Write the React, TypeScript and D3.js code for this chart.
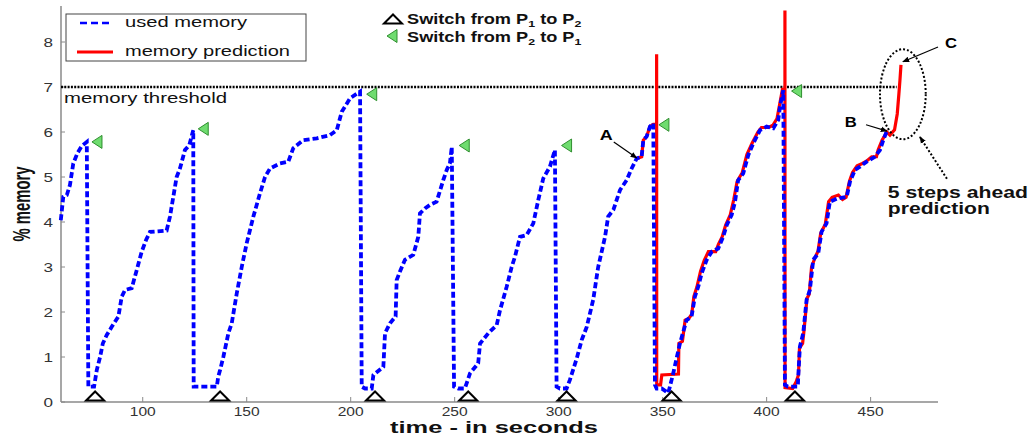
import React from "react";
import * as d3 from "d3";

// ---- data (time in seconds, % memory) ----
const usedMemory: [number, number][] = [
  [60.6, 4.04], [61.8, 4.56], [63.5, 4.6], [65.0, 4.82], [66.6, 5.3], [68.6, 5.53], [70.7, 5.69], [73.1, 5.78],
  [73.85, 0.34], [76.6, 0.34], [77.9, 0.71], [79.5, 1.0], [80.8, 1.3], [82.7, 1.49], [85.1, 1.67], [88.3, 1.9],
  [89.9, 2.34], [91.5, 2.49], [94.7, 2.53], [97.1, 2.93], [99.5, 3.34], [101.6, 3.6], [103.5, 3.78], [111.5, 3.81],
  [113.1, 4.12], [114.7, 4.56], [116.3, 5.0], [117.9, 5.19], [120.3, 5.6], [122.4, 5.71], [124.3, 6.04],
  [124.5, 0.34], [135.6, 0.34], [136.3, 0.56], [137.2, 0.71], [138.75, 1.0], [141.2, 1.53], [142.8, 1.75],
  [145.2, 2.41], [147.6, 3.0], [150.0, 3.53], [153.2, 4.12], [156.4, 4.64], [158.8, 5.0], [161.2, 5.19],
  [166.0, 5.3], [170.0, 5.34], [172.4, 5.64], [177.2, 5.82], [183.7, 5.86], [190.0, 5.93], [193.3, 6.04],
  [195.7, 6.45], [199.7, 6.75], [204.5, 6.9],
  [205.3, 0.34], [206.9, 0.3], [210.1, 0.3], [210.9, 0.6], [215.7, 0.78], [216.5, 1.53], [218.9, 1.75],
  [221.6, 1.9], [222.1, 2.71], [223.7, 2.9], [226.1, 3.16], [230.1, 3.27], [232.5, 3.67], [233.3, 4.19],
  [235.7, 4.3], [238.1, 4.38], [241.3, 4.45], [244.5, 4.93], [246.2, 5.16], [247.7, 5.3], [248.6, 5.67],
  [249.7, 0.34], [251.7, 0.3], [254.9, 0.3], [257.4, 0.64], [261.3, 0.86], [262.2, 1.3], [266.2, 1.53],
  [270.2, 1.71], [271.8, 2.04], [275.0, 2.56], [277.4, 3.0], [279.0, 3.23], [281.4, 3.67], [284.6, 3.71],
  [287.8, 3.97], [290.2, 4.49], [292.6, 4.97], [295.8, 5.23], [298.2, 5.6],
  [299.0, 0.34], [300.6, 0.3], [303.8, 0.3], [305.4, 0.49], [308.7, 0.97], [311.1, 1.38], [313.5, 1.67],
  [316.6, 2.27], [319.0, 3.0], [322.3, 3.67], [323.8, 4.12], [326.3, 4.27], [327.9, 4.49], [329.5, 4.71],
  [332.7, 4.93], [335.1, 5.19], [337.5, 5.41], [339.9, 5.45], [340.7, 5.82], [342.3, 5.9], [343.9, 6.12],
  [345.5, 6.19],
  [346.3, 0.38], [347.1, 0.3], [349.5, 0.3], [352.7, 0.2], [354.9, 0.6], [358.3, 1.3], [361.5, 1.82],
  [363.9, 1.9], [365.5, 2.34], [367.1, 2.56], [368.75, 2.86], [371.2, 3.16], [373.6, 3.34], [376.7, 3.41],
  [379.1, 3.67], [380.8, 3.93], [383.2, 4.16], [384.8, 4.45], [386.3, 4.93], [388.75, 5.08], [391.2, 5.49],
  [393.6, 5.75], [396.8, 6.04], [400.0, 6.12], [403.2, 6.08], [405.6, 6.27], [406.4, 6.56], [408.0, 6.93],
  [408.8, 0.38], [410.2, 0.34], [415.0, 0.34], [415.2, 0.56], [416.0, 1.23], [417.6, 1.53], [419.2, 2.27],
  [420.8, 2.49], [422.4, 3.16], [424.8, 3.3], [426.4, 3.78], [428.8, 3.97], [430.4, 4.45], [433.7, 4.52],
  [438.5, 4.56], [440.1, 4.9], [442.5, 5.16], [444.9, 5.23], [448.1, 5.34], [452.0, 5.45], [454.5, 5.6],
  [456.1, 5.82], [457.7, 6.01],
];

const memoryPrediction: [number, number][] = [
  [337.5, 5.41], [339.9, 5.45], [340.7, 5.82], [342.3, 5.9], [343.9, 6.12], [345.5, 6.17], [347.1, 6.17],
  [347.1, 7.73], [347.15, 0.38], [349.0, 0.38], [349.6, 0.6], [357.6, 0.62], [357.8, 1.3], [359.5, 1.35],
  [360.8, 1.82], [362.5, 1.85], [364.0, 1.95], [365.0, 2.34], [366.5, 2.56], [368.2, 2.9], [370.0, 3.15],
  [372.0, 3.34], [375.5, 3.34], [376.8, 3.5], [378.6, 3.67], [380.3, 3.93], [382.5, 4.16], [384.2, 4.5],
  [385.8, 4.9], [388.3, 5.1], [390.5, 5.5], [393.0, 5.75], [395.8, 6.0], [397.5, 6.1], [401.0, 6.1],
  [403.0, 6.15], [405.0, 6.3], [406.2, 6.6], [407.6, 6.95], [408.8, 6.95],
  [408.8, 8.7], [408.85, 0.32], [412.5, 0.3], [414.2, 0.45], [415.3, 0.6], [415.8, 1.2], [417.3, 1.3],
  [418.0, 1.6], [419.4, 2.3], [420.5, 2.4], [421.6, 3.0], [423.2, 3.2], [424.7, 3.35], [426.0, 3.75],
  [428.2, 3.95], [429.8, 4.45], [431.5, 4.55], [434.5, 4.6], [436.5, 4.5], [438.2, 4.55], [439.8, 4.9],
  [441.3, 5.1], [443.5, 5.25], [446.0, 5.3], [448.0, 5.35], [450.5, 5.45], [452.8, 5.45], [453.6, 5.6],
  [455.5, 5.82], [457.8, 6.0], [459.3, 5.93], [461.5, 6.05], [462.8, 6.4], [463.6, 6.85], [464.1, 7.15],
  [464.6, 7.49],
];

const switchP1toP2: number[] = [77.1, 137.2, 211.7, 256.5, 303.8, 354.3, 413.6];
const switchP2toP1: [number, number][] = [
  [78.0, 5.78], [129.1, 6.07], [210.1, 6.84], [254.6, 5.7], [303.8, 5.7], [350.6, 6.16], [414.4, 6.91],
];

const xTicks: number[] = [100, 150, 200, 250, 300, 350, 400, 450];
const yTicks: number[] = [0, 1, 2, 3, 4, 5, 6, 7, 8];
const memoryThreshold = 7;
const thresholdEnd = 462.5;

const FONT = "'Liberation Sans', Arial, Helvetica, sans-serif";

export default function App() {
  const x = d3.scaleLinear().domain([60.7, 482.4]).range([61, 938]);
  const y = d3.scaleLinear().domain([0, 8.8]).range([402, 6]);
  const line = d3
    .line<[number, number]>()
    .x((d) => x(d[0]))
    .y((d) => y(d[1]));

  const x0 = x(60.7);
  const y0 = y(0);

  const upTri = (cx: number, cy: number) =>
    `M${cx - 9},${cy + 4} L${cx},${cy - 5} L${cx + 9},${cy + 4} Z`;
  const leftTri = (cx: number, cy: number) =>
    `M${cx - 5},${cy} L${cx + 5},${cy - 6.5} L${cx + 5},${cy + 6.5} Z`;

  // ellipse around prediction (data units)
  const ell = { cx: 465.5, cy: 6.84, rx: 11, ry: 1.0 };

  return (
    <svg
      width={1032}
      height={437}
      style={{ position: "absolute", left: 0, top: 0, background: "#fff" }}
      fontFamily={FONT}
    >
      <defs>
        <marker id="ah" viewBox="0 0 10 10" refX="9" refY="5" markerWidth="7" markerHeight="7" orient="auto-start-reverse" markerUnits="userSpaceOnUse">
          <path d="M0,1 L10,5 L0,9 Z" fill="#000" />
        </marker>
      </defs>
      <rect x={0} y={0} width={1032} height={437} fill="#fff" />

      {/* axes */}
      <line x1={x0} y1={y0} x2={938} y2={y0} stroke="#8a8a8a" strokeWidth={1.5} />
      <line x1={x0} y1={6} x2={x0} y2={y0} stroke="#8a8a8a" strokeWidth={1.5} />
      {xTicks.map((t) => (
        <g key={"xt" + t}>
          <line x1={x(t)} x2={x(t)} y1={y0} y2={y0 - 5} stroke="#8a8a8a" strokeWidth={1} />
          <text x={x(t)} y={416} fontSize={12.5} textAnchor="middle" fill="#333" textLength={26} lengthAdjust="spacingAndGlyphs">
            {t}
          </text>
        </g>
      ))}
      {yTicks.map((v) => (
        <g key={"yt" + v}>
          <line x1={x0} x2={x0 + 4} y1={y(v)} y2={y(v)} stroke="#8a8a8a" strokeWidth={1} />
          <text x={53} y={y(v) + 5} fontSize={13.5} textAnchor="end" fill="#333" textLength={9.5} lengthAdjust="spacingAndGlyphs">
            {v}
          </text>
        </g>
      ))}
      <text x={494} y={433} fontSize={16} fontWeight="bold" textAnchor="middle" fill="#111" textLength={208} lengthAdjust="spacingAndGlyphs">
        time - in seconds
      </text>
      <text
        transform={`translate(30,204) rotate(-90) scale(1,1.25)`}
        fontSize={19}
        fontWeight="bold"
        textAnchor="middle"
        fill="#111"
        textLength={75}
        lengthAdjust="spacingAndGlyphs"
      >
        % memory
      </text>

      {/* threshold */}
      <line
        x1={x0}
        x2={x(thresholdEnd)}
        y1={y(memoryThreshold)}
        y2={y(memoryThreshold)}
        stroke="#000"
        strokeWidth={2.5}
        strokeDasharray="2 1.3"
      />
      <text x={64} y={103} fontSize={15} fill="#111" textLength={163} lengthAdjust="spacingAndGlyphs">
        memory threshold
      </text>

      {/* series */}
      <path d={line(memoryPrediction) || ""} fill="none" stroke="#ff0000" strokeWidth={3.2} strokeLinejoin="miter" />
      <path d={line(usedMemory) || ""} fill="none" stroke="#0000ff" strokeWidth={3.8} strokeDasharray="6 3" />

      {/* markers */}
      {switchP1toP2.map((t, i) => (
        <path key={"p12" + i} d={upTri(x(t), y0 - 5.5)} fill="none" stroke="#000" strokeWidth={2} />
      ))}
      {switchP2toP1.map((d, i) => (
        <path key={"p21" + i} d={leftTri(x(d[0]), y(d[1]))} fill="#6fdc6f" stroke="#2f8f2f" strokeWidth={1} />
      ))}

      {/* annotations */}
      <text x={x(322.9)} y={y(5.82)} fontSize={14} fontWeight="bold" textAnchor="middle" textLength={13} lengthAdjust="spacingAndGlyphs">A</text>
      <line x1={x(326.5)} y1={y(5.78)} x2={x(337.6)} y2={y(5.42)} stroke="#000" strokeWidth={1.2} markerEnd="url(#ah)" />
      <text x={x(440.5)} y={y(6.11)} fontSize={14} fontWeight="bold" textAnchor="middle" textLength={12} lengthAdjust="spacingAndGlyphs">B</text>
      <line x1={x(447.8)} y1={y(6.16)} x2={x(457.9)} y2={y(6.02)} stroke="#000" strokeWidth={1.2} markerEnd="url(#ah)" />
      <text x={x(488.6)} y={y(7.87)} fontSize={14} fontWeight="bold" textAnchor="middle" textLength={12} lengthAdjust="spacingAndGlyphs">C</text>
      <line x1={x(482.4)} y1={y(7.89)} x2={x(465.5)} y2={y(7.56)} stroke="#000" strokeWidth={1.2} markerEnd="url(#ah)" />
      <ellipse
        cx={x(ell.cx)}
        cy={y(ell.cy)}
        rx={x(ell.cx + ell.rx) - x(ell.cx)}
        ry={y(ell.cy) - y(ell.cy + ell.ry)}
        fill="none"
        stroke="#000"
        strokeWidth={2}
        strokeDasharray="2 2"
      />
      <line x1={x(486.7)} y1={y(4.96)} x2={x(473.7)} y2={y(5.89)} stroke="#000" strokeWidth={2} strokeDasharray="2 2" markerEnd="url(#ah)" />
      <text x={x(458.3)} y={y(4.53)} fontSize={16} fontWeight="bold" fill="#111" textLength={140} lengthAdjust="spacingAndGlyphs">
        5 steps ahead
      </text>
      <text x={x(458.3)} y={y(4.18)} fontSize={16} fontWeight="bold" fill="#111" textLength={102} lengthAdjust="spacingAndGlyphs">
        prediction
      </text>

      {/* legend box */}
      <rect x={66} y={14} width={240} height={47} fill="#fff" stroke="#444" strokeWidth={1} />
      <line x1={80} x2={113} y1={23} y2={23} stroke="#0000ff" strokeWidth={2.5} strokeDasharray="7 4" />
      <text x={125} y={27} fontSize={15.5} fill="#111" textLength={122} lengthAdjust="spacingAndGlyphs">
        used memory
      </text>
      <line x1={77} x2={113} y1={52} y2={52} stroke="#ff0000" strokeWidth={3} />
      <text x={125} y={56} fontSize={15.5} fill="#111" textLength={165} lengthAdjust="spacingAndGlyphs">
        memory prediction
      </text>

      {/* switch legend */}
      <path d={upTri(393, 19.5)} fill="none" stroke="#000" strokeWidth={2} />
      <text transform="translate(407,24) scale(1.3,1)" fontSize={14} fontWeight="bold" fill="#111">
        Switch from P<tspan fontSize={9.5} dy={3}>1</tspan>
        <tspan dy={-3}> to P</tspan>
        <tspan fontSize={9.5} dy={3}>2</tspan>
      </text>
      <path d={leftTri(392, 36)} fill="#6fdc6f" stroke="#2f8f2f" strokeWidth={1} />
      <text transform="translate(407,42) scale(1.3,1)" fontSize={14} fontWeight="bold" fill="#111">
        Switch from P<tspan fontSize={9.5} dy={3}>2</tspan>
        <tspan dy={-3}> to P</tspan>
        <tspan fontSize={9.5} dy={3}>1</tspan>
      </text>
    </svg>
  );
}
